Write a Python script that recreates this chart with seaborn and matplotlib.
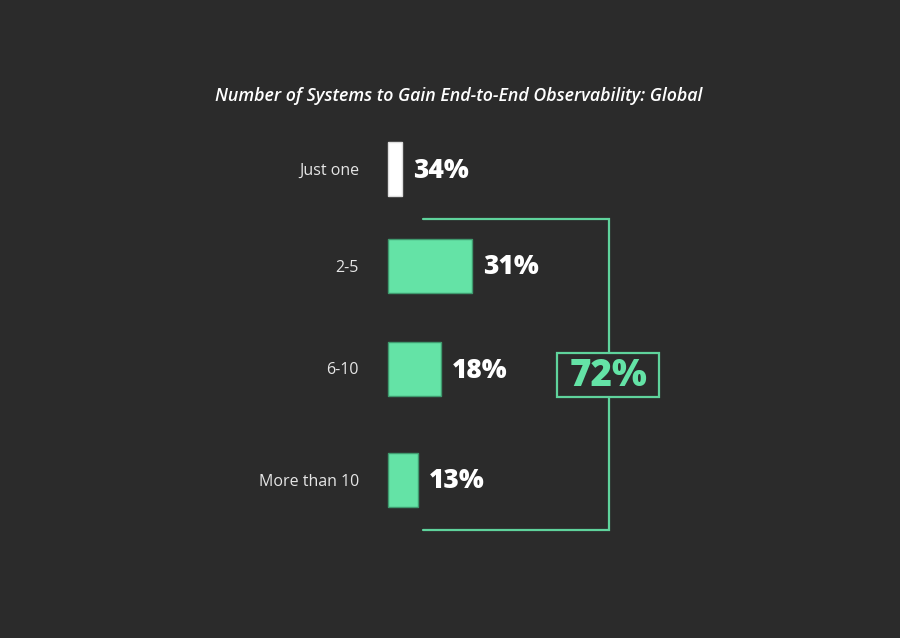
import matplotlib
matplotlib.use("Agg")
import matplotlib.pyplot as plt
import seaborn as sns
import pandas as pd
from matplotlib.patches import Rectangle

# ---- data ----
categories = ["Just one", "2-5", "6-10", "More than 10"]
shares = [34, 31, 18, 13]                 # printed values (%)
bar_len = [5.2, 31, 19.6, 11.1]           # bar extents as drawn in the reference
combined_share = 72                       # 2-5 + 6-10 + More than 10 (as labelled)
title = "Number of Systems to Gain End-to-End Observability: Global"

# ---- layout / style ----
BG = "#2b2b2b"
GREEN = "#64e3a6"
LINE_GREEN = "#5fd39c"
row_pos = [169, 266, 369, 480]            # vertical centres (pixel units)
PX_PER_UNIT = 2.7
X0_PX = 388

sns.set_theme(style="white")
plt.rcParams["font.family"] = ["Open Sans", "DejaVu Sans"]

fig = plt.figure(figsize=(9, 6.38), dpi=100, facecolor=BG)
ax = fig.add_axes([0, 0, 1, 1])
ax.set_facecolor(BG)

df = pd.DataFrame({"cat": categories, "len": bar_len, "pos": row_pos})
sns.barplot(data=df, x="len", y="pos", orient="y", native_scale=True,
            hue="cat", palette=["#ffffff", GREEN, GREEN, GREEN],
            saturation=1, dodge=False, legend=False, width=54 / 97, ax=ax,
            linewidth=0)

for p, c in zip(ax.patches, categories):
    if c == "Just one":
        p.set_edgecolor("#dddddd")
    else:
        p.set_edgecolor("#3f9a6e")
    p.set_linewidth(1)

ax.set_xlim(-X0_PX / PX_PER_UNIT, (900 - X0_PX) / PX_PER_UNIT)
ax.set_ylim(638, 0)
ax.axis("off")

def px(x):
    return (x - X0_PX) / PX_PER_UNIT

# category labels
for c, y in zip(categories, row_pos):
    ax.text(px(359), y + 1.5, c, ha="right", va="center", color="#e6e6e6",
            fontsize=11.5)

# value labels
for s, L, y in zip(shares, bar_len, row_pos):
    ax.text(L + 4.2, y + 1.5, f"{s}%", ha="left", va="center", color="white",
            fontsize=18.8, fontweight="heavy")

# title
ax.text(px(459), 96, title, ha="center", va="center", color="white",
        fontsize=12.75, fontstyle="italic", fontweight="semibold")

# bracket
ax.plot([px(423), px(609), px(609), px(423)], [219, 219, 530, 530],
        color=LINE_GREEN, lw=1.6, solid_joinstyle="miter")

# box with combined share
bx0, bx1, by0, by1 = px(557), px(659), 353, 397
ax.add_patch(Rectangle((bx0, by0), bx1 - bx0, by1 - by0, facecolor=BG,
                       edgecolor=LINE_GREEN, lw=1.6, zorder=5))
ax.text(px(609), 377, f"{combined_share}%", ha="center", va="center",
        color=GREEN, fontsize=26.5, fontweight="heavy", zorder=6)

fig.savefig("out.png", dpi=100, facecolor=BG)
